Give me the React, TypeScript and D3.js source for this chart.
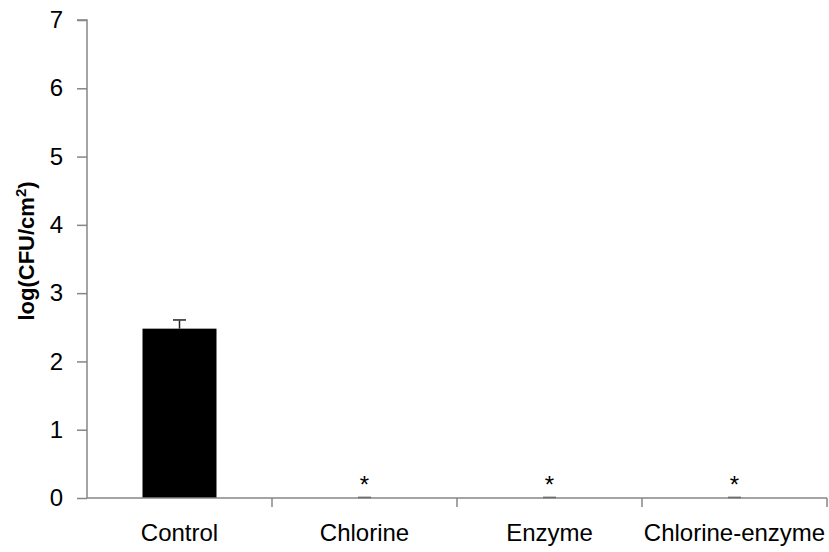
import React, { useEffect, useRef } from 'react';
import * as d3 from 'd3';

const categories = ['Control', 'Chlorine', 'Enzyme', 'Chlorine-enzyme'];
const values = [2.48, 0, 0, 0];
const errors = [0.12, 0, 0, 0];
const marks = ['', '*', '*', '*'];
const yTicks = [0, 1, 2, 3, 4, 5, 6, 7];

const App = () => {
  const svgRef = useRef<SVGSVGElement>(null);

  useEffect(() => {
    const svg = d3.select(svgRef.current);
    const width = 829;
    const height = 552;
    const font = 'Liberation Sans, Arial, sans-serif';

    svg.selectAll('*').remove();
    svg.attr('width', width).attr('height', height);

    const x = d3
      .scaleBand()
      .domain(categories)
      .range([87, 827])
      .paddingInner(0.6)
      .paddingOuter(0.3);

    const y = d3.scaleLinear().domain([0, 7]).range([498, 20]);

    const data = categories.map((c, i) => ({ c, v: values[i], e: errors[i], m: marks[i] }));

    // bars
    svg
      .selectAll('rect.bar')
      .data(data)
      .enter()
      .append('rect')
      .attr('x', (d) => x(d.c)!)
      .attr('y', (d) => y(d.v))
      .attr('width', x.bandwidth())
      .attr('height', (d) => y(0) - y(d.v))
      .attr('fill', '#000');

    // error bars
    const cx = (d) => x(d.c)! + x.bandwidth() / 2;
    svg
      .selectAll('line.err')
      .data(data)
      .enter()
      .append('line')
      .attr('x1', cx)
      .attr('x2', cx)
      .attr('y1', (d) => y(d.v))
      .attr('y2', (d) => y(d.v + d.e))
      .attr('stroke', '#222')
      .attr('stroke-width', 1.5);
    svg
      .selectAll('line.cap')
      .data(data)
      .enter()
      .append('line')
      .attr('x1', (d) => cx(d) - 6.5)
      .attr('x2', (d) => cx(d) + 6.5)
      .attr('y1', (d) => y(d.v + d.e) - 0.5)
      .attr('y2', (d) => y(d.v + d.e) - 0.5)
      .attr('stroke', '#222')
      .attr('stroke-width', 1.5);

    // significance marks
    svg
      .selectAll('text.mark')
      .data(data)
      .enter()
      .append('text')
      .attr('x', cx)
      .attr('y', (d) => y(d.v + d.e) - 5)
      .attr('text-anchor', 'middle')
      .attr('font-family', font)
      .attr('font-size', 24)
      .attr('fill', '#000')
      .text((d) => d.m);

    // y axis
    const yAxis = d3
      .axisLeft(y)
      .tickValues(yTicks)
      .tickSize(10)
      .tickPadding(14)
      .tickFormat(d3.format('d'));
    const gy = svg.append('g').attr('transform', 'translate(87,0)').call(yAxis);
    gy.select('.domain').attr('stroke', '#868686').attr('stroke-width', 1.5).attr('d', `M-10,${y(7)}H0V${y(0)}`);
    gy.selectAll('.tick line').attr('stroke', '#868686').attr('stroke-width', 1.5);
    gy.selectAll('.tick text').attr('font-family', font).attr('font-size', 24).attr('fill', '#000');

    // x axis
    const gx = svg.append('g').attr('transform', `translate(0,${y(0)})`);
    gx.append('line')
      .attr('x1', 87)
      .attr('x2', 827)
      .attr('stroke', '#868686')
      .attr('stroke-width', 1.5);
    const edges = categories.map((c) => x(c)! - x.step() * x.paddingInner() / 2 + x.step());
    gx.selectAll('line.tk')
      .data(edges)
      .enter()
      .append('line')
      .attr('x1', (d) => d)
      .attr('x2', (d) => d)
      .attr('y1', 0)
      .attr('y2', 9)
      .attr('stroke', '#868686')
      .attr('stroke-width', 1.5);
    gx.selectAll('text')
      .data(categories)
      .enter()
      .append('text')
      .attr('x', (d) => x(d)! + x.bandwidth() / 2)
      .attr('y', 43)
      .attr('text-anchor', 'middle')
      .attr('font-family', font)
      .attr('font-size', 24)
      .attr('fill', '#000')
      .text((d) => d);

    // y label
    const lbl = svg
      .append('text')
      .attr('transform', `translate(34,${(y(0) + y(7)) / 2 - 8}) rotate(-90)`)
      .attr('text-anchor', 'middle')
      .attr('font-family', font)
      .attr('font-size', 22)
      .attr('font-weight', 'bold')
      .attr('fill', '#000');
    lbl.append('tspan').text('log(CFU/cm');
    lbl.append('tspan').attr('font-size', 15).attr('dy', -8).text('2');
    lbl.append('tspan').attr('dy', 8).text(')');
  }, []);

  return <svg ref={svgRef} style={{ position: 'absolute', left: 0, top: 0 }} />;
};

export default App;
